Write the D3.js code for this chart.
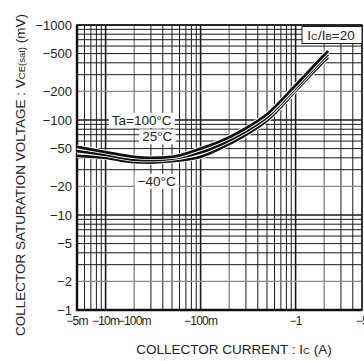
<!DOCTYPE html>
<html>
<head>
<meta charset="utf-8">
<script src="https://cdn.jsdelivr.net/npm/d3@7"></script>
<style>
  body { margin: 0; background: #fff; }
  svg { display: block; font-family: "Liberation Sans", Arial, sans-serif; }
</style>
</head>
<body>
<div id="chart"></div>
<script>
// collector current magnitudes (A), the axis shows them as negative values
const currents = [0.005, 0.01, 0.02, 0.03, 0.05, 0.1, 0.2, 0.3, 0.5, 1, 2, 2.2];
// |VCE(sat)| in mV for each temperature
const vce100 = [52, 46, 41, 40, 41, 50, 66, 82, 115, 232, 483, 532];
const vce25 = [47, 43, 38.4, 37.9, 39.3, 45.5, 61, 76, 107, 217, 450, 492];
const vceM40 = [42, 40, 36.1, 35.7, 37, 41, 56, 70, 99, 203, 418, 458];

const xTicks = [0.005, 0.01, 0.02, 0.1, 1, 5];
const xTickLabels = ["−5m", "−10m", "−100m", "−100m", "−1", "−5"];
const yTicks = [1, 2, 5, 10, 20, 50, 100, 200, 500, 1000];
const yTickLabels = ["−1", "−2", "−5", "−10", "−20", "−50", "−100", "−200", "−500", "−1000"];

const width = 364, height = 361;
const marginLeft = 77, marginRight = 2, marginTop = 25, marginBottom = 51;

const svg = d3.select("#chart").append("svg")
    .attr("width", width).attr("height", height);

const x = d3.scaleLog().domain([0.005, 5]).range([marginLeft, width - marginRight]);
const y = d3.scaleLog().domain([1, 1000]).range([height - marginBottom, marginTop]);

function leadDigit(v) {
    return Math.round(v / Math.pow(10, Math.floor(Math.log10(v) + 1e-9)));
}
function gridColor(v) { return leadDigit(v) === 2 ? "#8a8a8a" : "#1a1a1a"; }
function gridWidth(v) { return leadDigit(v) === 1 ? 1.6 : (leadDigit(v) === 2 ? 1.4 : 1); }

// grid
const grid = svg.append("g");
grid.selectAll("line.v").data(x.ticks()).join("line")
    .attr("x1", d => x(d)).attr("x2", d => x(d))
    .attr("y1", y(1000)).attr("y2", y(1))
    .attr("stroke", gridColor).attr("stroke-width", gridWidth);
grid.selectAll("line.h").data(y.ticks()).join("line")
    .attr("x1", x(0.005)).attr("x2", x(5))
    .attr("y1", d => y(d)).attr("y2", d => y(d))
    .attr("stroke", gridColor).attr("stroke-width", gridWidth);

// frame
svg.append("rect")
    .attr("x", x(0.005)).attr("y", y(1000))
    .attr("width", x(5) - x(0.005)).attr("height", y(1) - y(1000))
    .attr("fill", "none").attr("stroke", "#1a1a1a").attr("stroke-width", 1.5);
svg.append("path")
    .attr("d", `M${x(0.005)},${y(1000)}V${y(1)}H${x(5)}`)
    .attr("fill", "none").attr("stroke", "#111").attr("stroke-width", 2.4);

// curves
const series = [vceM40, vce25, vce100];
const line = d3.line()
    .x((d, i) => x(currents[i]))
    .y(d => y(d))
    .curve(d3.curveMonotoneX);
series.forEach(s => {
    svg.append("path").attr("d", line(s))
        .attr("fill", "none").attr("stroke", "#fff").attr("stroke-width", 4.6);
    svg.append("path").attr("d", line(s))
        .attr("fill", "none").attr("stroke", "#111").attr("stroke-width", 2.8);
});

// curve labels
function boxedLabel(text, cx, cy) {
    const g = svg.append("g");
    const t = g.append("text").attr("x", cx).attr("y", cy).attr("dy", "0.36em")
        .attr("text-anchor", "middle").attr("font-size", 13.5).attr("fill", "#222").text(text);
    const b = t.node().getBBox();
    g.insert("rect", "text").attr("x", b.x - 3).attr("y", b.y)
        .attr("width", b.width + 6).attr("height", b.height).attr("fill", "#fff");
}
boxedLabel("Ta=100°C", x(0.024), y(100));
boxedLabel("25°C", x(0.035), y(67));
boxedLabel("−40°C", x(0.0345), y(22.8));

// IC/IB box
const ib = svg.append("g");
ib.append("rect").attr("x", 302).attr("y", y(1000) + 1.5)
    .attr("width", x(5) - 302).attr("height", 17)
    .attr("fill", "#fff").attr("stroke", "#1a1a1a").attr("stroke-width", 1);
const ibt = ib.append("text").attr("x", 331).attr("y", y(1000) + 14.5)
    .attr("text-anchor", "middle").attr("font-size", 13.5).attr("fill", "#222");
ibt.append("tspan").text("I");
ibt.append("tspan").attr("font-size", 9.5).text("C");
ibt.append("tspan").text("/I");
ibt.append("tspan").attr("font-size", 9.5).text("B");
ibt.append("tspan").text("=20");

// tick labels
svg.append("g").selectAll("text").data(yTicks).join("text")
    .attr("x", marginLeft - 5).attr("y", d => y(d)).attr("dy", "0.36em")
    .attr("text-anchor", "end").attr("font-size", 13).attr("fill", "#222")
    .text((d, i) => yTickLabels[i]);
svg.append("g").selectAll("text").data(xTicks).join("text")
    .attr("x", d => x(d)).attr("y", y(1) + 15)
    .attr("text-anchor", "middle").attr("font-size", 12).attr("fill", "#222")
    .attr("letter-spacing", -0.8)
    .text((d, i) => xTickLabels[i]);

// axis titles
const xt = svg.append("text").attr("x", 234).attr("y", 354)
    .attr("text-anchor", "middle").attr("font-size", 13.5).attr("fill", "#222");
xt.append("tspan").text("COLLECTOR CURRENT : I");
xt.append("tspan").attr("font-size", 9.5).text("C");
xt.append("tspan").text(" (A)");

const yt = svg.append("text").attr("transform", "translate(25,175) rotate(-90)")
    .attr("text-anchor", "middle").attr("font-size", 13.5).attr("fill", "#222");
yt.append("tspan").text("COLLECTOR SATURATION VOLTAGE : V");
yt.append("tspan").attr("font-size", 9.5).text("CE(sat)");
yt.append("tspan").text(" (mV)");
</script>
</body>
</html>
